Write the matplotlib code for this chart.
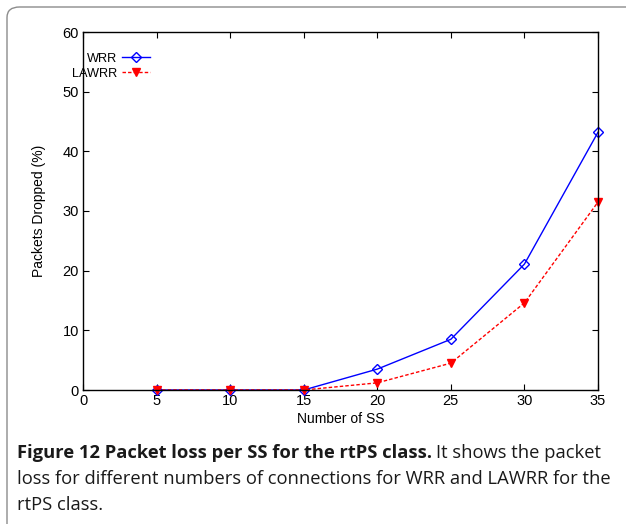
import matplotlib
matplotlib.use("Agg")
import matplotlib.pyplot as plt
from matplotlib.patches import FancyBboxPatch

x_ss = [5, 10, 15, 20, 25, 30, 35]
wrr = [0, 0, 0, 3.5, 8.5, 21.1, 43.2]
lawrr = [0, 0, 0, 1.2, 4.5, 14.6, 31.5]
x_ticks = [0, 5, 10, 15, 20, 25, 30, 35]
y_ticks = [0, 10, 20, 30, 40, 50, 60]

W, H = 626, 524
fig = plt.figure(figsize=(W / 100, H / 100), dpi=100)
plt.rcParams['font.family'] = ['Liberation Sans', 'DejaVu Sans']

# rounded frame around figure
frame = FancyBboxPatch((7 / W, -0.2), 1.2, 1.2 - 7 / H,
                       boxstyle="round,pad=0,rounding_size=0.02",
                       transform=fig.transFigure, facecolor='none',
                       edgecolor='#8c8c8c', linewidth=1.0, figure=fig)
fig.patches.append(frame)

ax = fig.add_axes([83 / W, 1 - 390 / H, (598 - 83) / W, (390 - 32) / H])
ax.plot(x_ss, wrr, color='#0000ff', linestyle='-', linewidth=1.0,
        marker='D', markersize=5, markerfacecolor='none',
        markeredgecolor='#0000ff', markeredgewidth=1.0, label='WRR', clip_on=False)
ax.plot(x_ss, lawrr, color='#ff0000', linestyle=(0, (2.5, 1.5)), linewidth=1.0,
        marker='v', markersize=6, markerfacecolor='#ff0000',
        markeredgecolor='#ff0000', label='LAWRR', clip_on=False)

ax.set_xlim(0, 35)
ax.set_ylim(0, 60)
ax.set_xticks(x_ticks)
ax.set_yticks(y_ticks)
ax.tick_params(direction='in', top=True, right=True, labelsize=10.5,
               length=4, width=0.8, pad=3)
for s in ax.spines.values():
    s.set_linewidth(1.0)
ax.set_xlabel('Number of SS', fontsize=10, labelpad=3)
ax.set_ylabel('Packets Dropped (%)', fontsize=10, labelpad=12)

leg = ax.legend(loc='upper right', bbox_to_anchor=(67 / 515, 1 - 20.5 / 358),
                frameon=False, markerfirst=False, fontsize=9.2,
                handlelength=2.2, handletextpad=0.4, labelspacing=0.25,
                borderaxespad=0.0, borderpad=0.0)
leg._legend_box.align = 'right'

# caption
cap_font = ['Open Sans', 'DejaVu Sans']
fs = 13.25
x0 = 17 / W
b = fig.text(x0, 1 - 453 / H, 'Figure 12 Packet loss per SS for the rtPS class.',
             fontsize=fs, fontweight='bold', family=cap_font, va='center',
             color='#1a1a1a')
fig.canvas.draw()
bb = b.get_window_extent(renderer=fig.canvas.get_renderer())
fig.text(bb.x1 / W + 4 / W, 1 - 453 / H, 'It shows the packet', fontsize=fs,
         family=cap_font, va='center', color='#1a1a1a')
fig.text(x0, 1 - 479 / H, 'loss for different numbers of connections for WRR and LAWRR for the',
         fontsize=fs, family=cap_font, va='center', color='#1a1a1a')
fig.text(x0, 1 - 505 / H, 'rtPS class.', fontsize=fs, family=cap_font,
         va='center', color='#1a1a1a')

fig.savefig('out.png', dpi=100)
